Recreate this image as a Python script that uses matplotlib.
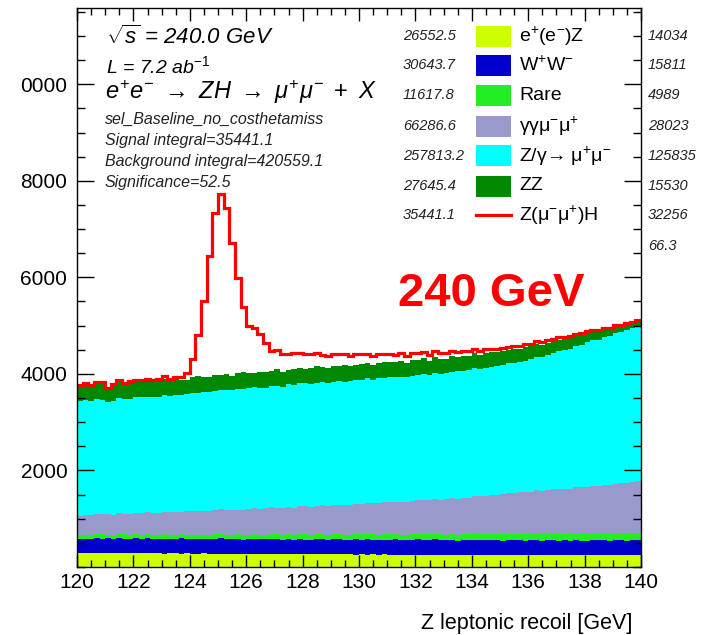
import numpy as np
import matplotlib
matplotlib.use('Agg')
import matplotlib.pyplot as plt
from matplotlib.patches import Rectangle
from matplotlib.lines import Line2D
from matplotlib.ticker import MultipleLocator, FixedLocator

plt.rcParams['font.family'] = ['Liberation Sans', 'DejaVu Sans']
plt.rcParams['mathtext.fontset'] = 'custom'
plt.rcParams['mathtext.rm'] = 'Liberation Sans'
plt.rcParams['mathtext.it'] = 'Liberation Sans:italic'
plt.rcParams['mathtext.bf'] = 'Liberation Sans:bold'

# binning: 100 bins of 0.2 GeV
x_lo, x_hi, n_bins = 120.0, 140.0, 100

# per-bin yields (stack order bottom -> top)
eez = [292, 288, 295, 285, 290, 287, 283, 291, 286, 284,
       289, 282, 286, 280, 284, 279, 283, 281, 277, 282,
       278, 275, 280, 276, 273, 279, 274, 271, 276, 272,
       270, 274, 268, 272, 267, 270, 265, 269, 266, 263,
       268, 264, 261, 266, 262, 259, 264, 260, 262, 258,
       261, 257, 260, 256, 259, 255, 258, 254, 257, 253,
       256, 252, 255, 251, 254, 250, 253, 249, 252, 248,
       251, 247, 250, 246, 249, 252, 245, 248, 244, 247,
       243, 246, 242, 245, 241, 244, 247, 242, 245, 240,
       244, 241, 246, 242, 239, 245, 241, 243, 240, 244]

ww = [285, 300, 292, 310, 298, 305, 288, 312, 302, 295,
      308, 299, 315, 290, 304, 311, 296, 303, 318, 300,
      292, 309, 301, 297, 314, 320, 305, 299, 311, 293,
      306, 316, 302, 298, 322, 307, 294, 310, 303, 317,
      300, 295, 312, 306, 299, 315, 308, 301, 296, 313,
      305, 319, 302, 297, 310, 304, 316, 300, 293, 308,
      314, 301, 306, 320, 298, 303, 311, 296, 309, 302,
      318, 305, 299, 312, 307, 295, 310, 303, 316, 300,
      308, 313, 297, 305, 319, 302, 309, 296, 314, 306,
      301, 311, 304, 317, 299, 308, 312, 303, 315, 310]

rare = [82, 76, 85, 79, 88, 81, 77, 84, 90, 83,
        86, 80, 89, 92, 84, 87, 93, 88, 85, 91,
        95, 89, 86, 94, 98, 90, 93, 97, 91, 99,
        95, 102, 96, 100, 104, 98, 101, 106, 99, 103,
        108, 102, 105, 110, 104, 107, 112, 106, 109, 114,
        108, 111, 116, 110, 113, 118, 112, 115, 120, 114,
        117, 122, 116, 119, 124, 118, 121, 126, 120, 124,
        129, 123, 127, 132, 126, 130, 135, 128, 133, 138,
        131, 136, 141, 134, 139, 144, 137, 142, 147, 140,
        145, 150, 143, 148, 153, 146, 151, 156, 149, 155]

ggmm = [405, 414, 409, 420, 414, 426, 420, 432, 427, 439,
        445, 452, 447, 460, 455, 466, 462, 473, 469, 480,
        487, 494, 490, 501, 497, 508, 504, 516, 512, 523,
        530, 538, 534, 546, 543, 555, 552, 565, 561, 574,
        582, 590, 588, 600, 597, 610, 607, 620, 617, 630,
        640, 648, 645, 658, 655, 668, 664, 677, 674, 686,
        700, 707, 703, 716, 722, 730, 738, 746, 755, 763,
        780, 792, 788, 805, 815, 828, 836, 848, 857, 870,
        882, 893, 890, 905, 912, 925, 930, 942, 950, 962,
        975, 985, 983, 998, 1005, 1020, 1028, 1042, 1055, 1075]

zgmm = [2365, 2372, 2350, 2381, 2368, 2310, 2376, 2390, 2369, 2384,
        2393, 2401, 2385, 2408, 2396, 2415, 2404, 2420, 2412, 2430,
        2449, 2440, 2462, 2455, 2471, 2463, 2486, 2478, 2497, 2505,
        2500, 2492, 2510, 2502, 2518, 2524, 2512, 2532, 2540, 2548,
        2550, 2538, 2556, 2545, 2560, 2548, 2565, 2552, 2570, 2558,
        2566, 2578, 2558, 2585, 2570, 2592, 2576, 2598, 2584, 2605,
        2600, 2612, 2592, 2620, 2606, 2628, 2615, 2638, 2625, 2645,
        2650, 2640, 2662, 2655, 2674, 2670, 2690, 2705, 2700, 2722,
        2745, 2760, 2785, 2802, 2830, 2852, 2876, 2900, 2922, 2948,
        2995, 3010, 3036, 3060, 3085, 3120, 3140, 3165, 3190, 3215]

zz = [320, 335, 310, 328, 342, 265, 318, 330, 305, 340,
      312, 325, 338, 300, 322, 345, 310, 333, 318, 295,
      326, 340, 315, 305, 332, 318, 345, 300, 325, 338,
      310, 296, 335, 320, 305, 342, 315, 290, 330, 318,
      300, 325, 340, 308, 295, 330, 315, 345, 302, 320,
      335, 310, 298, 325, 340, 305, 318, 332, 295, 322,
      310, 338, 300, 325, 315, 290, 330, 305, 320, 298,
      310, 285, 305, 295, 275, 300, 280, 290, 265, 275,
      260, 270, 248, 255, 235, 240, 220, 225, 200, 205,
      185, 175, 160, 150, 135, 125, 110, 100, 85, 72]

signal = [20, 25, 22, 28, 25, 30, 27, 32, 30, 35,
          33, 38, 36, 42, 40, 45, 48, 46, 54, 148,
          380, 850, 1567, 2524, 3354, 3745, 3425, 2759, 1976, 1359,
          990, 925, 777, 594, 412, 390, 370, 345, 330, 315,
          300, 290, 275, 265, 255, 245, 235, 228, 220, 210,
          200, 195, 185, 178, 170, 162, 158, 150, 145, 138,
          132, 128, 122, 118, 112, 105, 100, 96, 92, 88,
          85, 82, 79, 76, 73, 70, 68, 66, 64, 62,
          60, 58, 56, 55, 53, 51, 50, 48, 47, 46,
          45, 44, 43, 42, 41, 40, 39, 38, 37, 36]

bkg_names = ['e$^{+}$(e$^{-}$)Z', 'W$^{+}$W$^{-}$', 'Rare', 'γγμ$^{-}$μ$^{+}$',
             'Z/γ→ μ$^{+}$μ$^{-}$', 'ZZ']
sig_name = 'Z(μ$^{-}$μ$^{+}$)H'
bkg_colors = ['#ccff00', '#0000cc', '#22ee22', '#9999cc', '#00ffff', '#008800']
sig_color = '#ff0000'
integrals = ['26552.5', '30643.7', '11617.8', '66286.6', '257813.2', '27645.4', '35441.1']
entries = ['14034', '15811', '4989', '28023', '125835', '15530', '32256', '66.3']

info_lines = ['sel_Baseline_no_costhetamiss', 'Signal integral=35441.1',
              'Background integral=420559.1', 'Significance=52.5']

W, H = 701, 635


def fx(px):
    return px / W


def fy(py):
    return 1 - py / H


fig = plt.figure(figsize=(W / 100, H / 100), dpi=100)
ax = fig.add_axes([fx(77), fy(567), fx(641) - fx(77), fy(8) - fy(567)])

edges = np.linspace(x_lo, x_hi, n_bins + 1)
series = [eez, ww, rare, ggmm, zgmm, zz]
base = np.zeros(n_bins)
for vals, col in zip(series, bkg_colors):
    top = base + np.array(vals, dtype=float)
    ax.stairs(top, edges, baseline=base, fill=True, color=col, lw=0)
    base = top
ax.stairs(base + np.array(signal), edges, baseline=None, color=sig_color, lw=2.3)

ax.set_xlim(x_lo, x_hi)
ax.set_ylim(0, 11580)
ax.xaxis.set_major_locator(MultipleLocator(2))
ax.xaxis.set_minor_locator(MultipleLocator(0.5))
ax.yaxis.set_major_locator(FixedLocator([2000, 4000, 6000, 8000, 10000]))
ax.yaxis.set_minor_locator(MultipleLocator(500))
ax.set_yticklabels(['2000', '4000', '6000', '8000', '0000'])
ax.tick_params(which='both', direction='in', top=True, right=True, width=1.0)
ax.tick_params(axis='y', which='major', length=12, labelsize=15, pad=7)
ax.tick_params(axis='y', which='minor', length=6)
ax.tick_params(axis='x', which='major', length=9, labelsize=15, pad=4)
ax.tick_params(axis='x', which='minor', length=5)
for s in ax.spines.values():
    s.set_linewidth(1.0)
ax.set_xlabel('Z leptonic recoil [GeV]', fontsize=15.5)
ax.xaxis.set_label_coords((632 - 77) / 564, -0.082)
ax.xaxis.label.set_horizontalalignment('right')

# header text
fig.text(fx(106), fy(37), r'$\sqrt{s}$ = 240.0 GeV', fontsize=16, style='italic', va='center')
fig.text(fx(106), fy(66), 'L = 7.2 ab$^{-1}$', fontsize=14, style='italic', va='center')
fig.text(fx(105), fy(92), r'$e^{+}e^{-}\ \rightarrow\ ZH\ \rightarrow\ \mu^{+}\mu^{-}\ +\ X$',
         fontsize=17, va='center')
for i, line in enumerate(info_lines):
    fig.text(fx(105), fy(119 + 21.3 * i), line, fontsize=11.5, style='italic',
             va='center', color='#222222')

# legend, drawn by hand like the ROOT one
row_y = [36, 65, 95, 126, 156, 186, 215]
for i, (name, col) in enumerate(zip(bkg_names, bkg_colors)):
    fig.patches.append(Rectangle((fx(476), fy(row_y[i] + 10.5)), fx(511) - fx(476), 21 / H,
                                 transform=fig.transFigure, facecolor=col, edgecolor='none'))
    fig.text(fx(519), fy(row_y[i]), name, fontsize=14, va='center')
fig.lines.append(Line2D([fx(476), fx(511)], [fy(row_y[6]), fy(row_y[6])],
                        transform=fig.transFigure, color=sig_color, lw=2.3))
fig.text(fx(519), fy(row_y[6]), sig_name, fontsize=14, va='center')
for i, val in enumerate(integrals):
    fig.text(fx(403), fy(row_y[i]), val, fontsize=10.5, style='italic', va='center',
             color='#222222')
for i, val in enumerate(entries):
    yy = row_y[i] if i < len(row_y) else 246
    fig.text(fx(648), fy(yy), val, fontsize=10.5, style='italic', va='center',
             color='#222222')

fig.text(fx(491), fy(294), '240 GeV', fontsize=34, fontweight='bold', color='#ff0000',
         ha='center', va='center')

fig.savefig('out.png', dpi=100)
